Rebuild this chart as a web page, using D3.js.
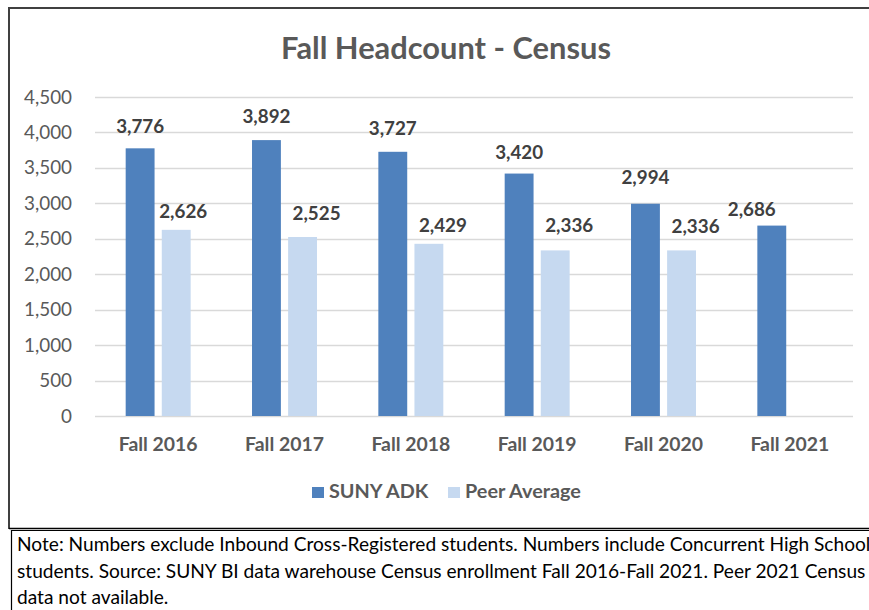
<!DOCTYPE html>
<html>
<head>
<meta charset="utf-8">
<script src="https://cdn.jsdelivr.net/npm/d3@7"></script>
<style>
  body { margin: 0; background: #fff; }
  svg { display: block; font-family: Lato, "Open Sans", sans-serif; }
</style>
</head>
<body>
<script>
const width = 869;
const height = 610;
const font = 'Lato, "Open Sans", sans-serif';

const categories = ['Fall 2016', 'Fall 2017', 'Fall 2018', 'Fall 2019', 'Fall 2020', 'Fall 2021'];
const seriesNames = ['SUNY ADK', 'Peer Average'];
const sunyAdk = [3776, 3892, 3727, 3420, 2994, 2686];
const peerAverage = [2626, 2525, 2429, 2336, 2336, null];
const yTicks = [0, 500, 1000, 1500, 2000, 2500, 3000, 3500, 4000, 4500];
const noteLines = [
  'Note: Numbers exclude Inbound Cross-Registered students. Numbers include Concurrent High School',
  'students. Source: SUNY BI data warehouse Census enrollment Fall 2016-Fall 2021. Peer 2021 Census',
  'data not available.'
];
const colors = ['#4f81bd', '#c6d9f0'];

// label placement as Excel left it (px): horizontal nudge and lift above bar
const labelShift = [[0, 0, 0, 0, 0, -20], [7, 14, 14, 14, 14, 0]];
const labelLift = [[15, 17, 17, 15, 20, 10], [12, 17, 12, 18, 17, 0]];

const rows = categories.map((c, i) => ({ cat: c, idx: i, values: [sunyAdk[i], peerAverage[i]] }));

const svg = d3.select('body').append('svg')
  .attr('width', width)
  .attr('height', height);

// find the font size that gives a sample string the wanted width
function fitSize(sample, targetWidth, weight) {
  const t = svg.append('text')
    .attr('font-family', font)
    .attr('font-size', 100)
    .attr('font-weight', weight)
    .text(sample);
  const w = t.node().getComputedTextLength();
  t.remove();
  return 100 * targetWidth / w;
}

const titleSize = fitSize('Fall Headcount - Census', 330, 'bold');
const valueSize = fitSize('3,776', 48, 'bold');
const tickSize = fitSize('4,500', 48, 'normal');
const catSize = fitSize('Fall 2016', 79, 'bold');
const legendSize = fitSize('Peer Average', 116, 'bold');
const noteSize = fitSize(noteLines[1], 849, 'normal');

// chart frame
svg.append('path')
  .attr('d', 'M9,529 L9,8 L875,8')
  .attr('fill', 'none')
  .attr('stroke', '#404040')
  .attr('stroke-width', 2);
svg.append('line')
  .attr('x1', 9).attr('x2', 875)
  .attr('y1', 528.5).attr('y2', 528.5)
  .attr('stroke', '#000').attr('stroke-width', 1.5);
// note box
svg.append('path')
  .attr('d', 'M11.5,610 L11.5,530.5 L875,530.5')
  .attr('fill', 'none')
  .attr('stroke', '#000')
  .attr('stroke-width', 1.2);

svg.append('text')
  .attr('x', 446)
  .attr('y', 59)
  .attr('text-anchor', 'middle')
  .attr('font-size', titleSize)
  .attr('font-weight', 'bold')
  .attr('fill', '#595959')
  .text('Fall Headcount - Census');

const x0 = d3.scaleBand()
  .domain(categories)
  .range([95, 853]);

const x1 = d3.scaleBand()
  .domain(d3.range(seriesNames.length))
  .range([0, x0.bandwidth()])
  .paddingInner(0.2)
  .paddingOuter(0.85);

const y = d3.scaleLinear()
  .domain([0, 4500])
  .range([416, 97]);

// gridlines
svg.append('g')
  .selectAll('line')
  .data(yTicks)
  .join('line')
    .attr('x1', 95)
    .attr('x2', 853)
    .attr('y1', d => Math.round(y(d)) + 0.5)
    .attr('y2', d => Math.round(y(d)) + 0.5)
    .attr('stroke', '#d9d9d9')
    .attr('stroke-width', 1.5);

// y axis labels
const yAxis = svg.append('g')
  .attr('transform', 'translate(72,0)')
  .call(d3.axisLeft(y).tickValues(yTicks).tickFormat(d3.format(',')).tickSize(0).tickPadding(0));
yAxis.select('.domain').remove();
yAxis.attr('font-family', font);
yAxis.selectAll('text')
  .attr('font-size', tickSize)
  .attr('fill', '#595959');

// x axis labels
const xAxis = svg.append('g')
  .attr('transform', 'translate(0,451)')
  .call(d3.axisBottom(x0).tickSize(0).tickPadding(0));
xAxis.select('.domain').remove();
xAxis.attr('font-family', font);
xAxis.selectAll('text')
  .attr('dy', null)
  .attr('font-size', catSize)
  .attr('font-weight', 'bold')
  .attr('fill', '#595959');

// bars
const group = svg.append('g')
  .selectAll('g')
  .data(rows)
  .join('g')
    .attr('transform', d => `translate(${x0(d.cat)},0)`);

const cells = group.selectAll('g')
  .data(d => d.values.map((v, i) => ({ v, i, k: d.idx })).filter(d => d.v != null))
  .join('g');

cells.append('rect')
  .attr('x', d => x1(d.i))
  .attr('y', d => y(d.v))
  .attr('width', x1.bandwidth())
  .attr('height', d => y(0) - y(d.v))
  .attr('fill', d => colors[d.i]);

cells.append('text')
  .attr('x', d => x1(d.i) + x1.bandwidth() / 2 + labelShift[d.i][d.k])
  .attr('y', d => y(d.v) - labelLift[d.i][d.k])
  .attr('text-anchor', 'middle')
  .attr('font-size', valueSize)
  .attr('font-weight', 'bold')
  .attr('fill', '#404040')
  .text(d => d3.format(',')(d.v));

// legend
const legendX = [312, 448];
const legend = svg.append('g')
  .selectAll('g')
  .data(seriesNames)
  .join('g')
    .attr('transform', (d, i) => `translate(${legendX[i]},487)`);
legend.append('rect')
  .attr('width', 12)
  .attr('height', 11)
  .attr('fill', (d, i) => colors[i]);
legend.append('text')
  .attr('x', 17)
  .attr('y', 11)
  .attr('font-size', legendSize)
  .attr('font-weight', 'bold')
  .attr('fill', '#595959')
  .text(d => d);

// note
svg.append('g')
  .selectAll('text')
  .data(noteLines)
  .join('text')
    .attr('x', 17)
    .attr('y', (d, i) => 551 + i * 26.5)
    .attr('font-size', noteSize)
    .attr('fill', '#000')
    .text(d => d);
</script>
</body>
</html>
